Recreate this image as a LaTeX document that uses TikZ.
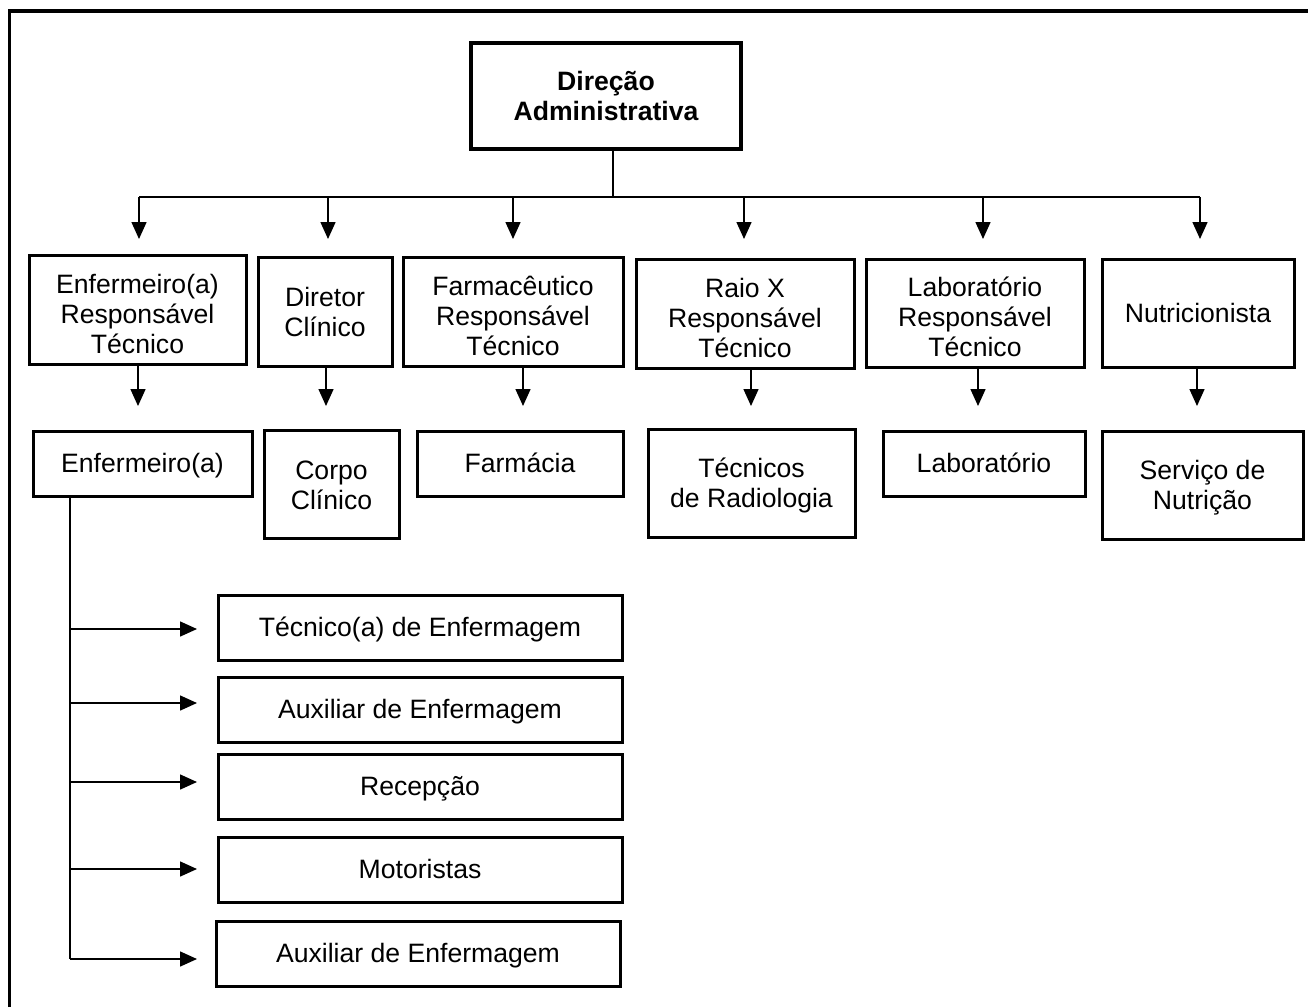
\documentclass[tikz,border=0pt]{standalone}
\usepackage{fontspec}
\setmainfont{Liberation Sans}
\usetikzlibrary{arrows.meta}
\newcommand\uptwo{\rule{0pt}{25.5pt}}
\newcommand\upthree{\rule{0pt}{33.5pt}}
\begin{document}
\begin{tikzpicture}[x=1pt,y=-1pt,
  txtfont/.style={font=\fontsize{26.6}{30}\selectfont},
  box/.style={draw, line width=3pt, inner sep=0pt, align=center, txtfont,
    execute at begin node={\rule{0pt}{24.1pt}},
    execute at end node={\rule[-5.6pt]{0pt}{5.6pt}}},
  conn/.style={line width=1.5pt},
  arr/.style={line width=1.5pt, -{Triangle[length=17pt,width=15pt]}}]
\useasboundingbox (0,0) rectangle (1308,1007);
% frame
\draw[line width=3.2pt] (9.5,1007) -- (9.5,11) -- (1308,11);

% top
\node[box, line width=3.4pt, minimum width=270pt, minimum height=106pt,
      font=\bfseries\fontsize{26.6}{30}\selectfont] (dir) at (606,96) {\uptwo Direção\\Administrativa};

% level 2
\node[box, minimum width=217pt, minimum height=109pt] (enfRT) at (137.5,309.5) {\upthree Enfermeiro(a)\\Responsável\\Técnico};
\node[box, minimum width=134pt, minimum height=109pt] (dirC) at (325,311.5) {\uptwo Diretor\\Clínico};
\node[box, minimum width=220pt, minimum height=109pt] (farmRT) at (513,311.5) {\upthree Farmacêutico\\Responsável\\Técnico};
\node[box, minimum width=218pt, minimum height=109pt] (raioRT) at (745,313.5) {\upthree Raio X\\Responsável\\Técnico};
\node[box, minimum width=218pt, minimum height=108pt] (labRT) at (975,313) {\upthree Laboratório\\Responsável\\Técnico};
\node[box, minimum width=192pt, minimum height=108pt] (nutri) at (1198,313) {Nutricionista};

% level 3
\node[box, minimum width=219pt, minimum height=65pt] (enf) at (142.5,463.5) {Enfermeiro(a)};
\node[box, minimum width=135pt, minimum height=108pt] (corpo) at (331.5,484.5) {\uptwo Corpo\\Clínico};
\node[box, minimum width=206pt, minimum height=65pt] (farm) at (520,463.5) {Farmácia};
\node[box, minimum width=207pt, minimum height=108pt] (tecRad) at (751.5,483) {\uptwo Técnicos\\de Radiologia};
\node[box, minimum width=202pt, minimum height=65pt] (lab) at (984,463.5) {Laboratório};
\node[box, minimum width=201pt, minimum height=108pt] (serv) at (1202.5,485) {\uptwo Serviço de\\Nutrição};

% level 4
\node[box, minimum width=404pt, minimum height=65pt] (b1) at (420,627.5) {Técnico(a) de Enfermagem};
\node[box, minimum width=404pt, minimum height=65pt] (b2) at (420,709.5) {Auxiliar de Enfermagem};
\node[box, minimum width=404pt, minimum height=65pt] (b3) at (420,786.5) {Recepção};
\node[box, minimum width=404pt, minimum height=65pt] (b4) at (420,869.5) {Motoristas};
\node[box, minimum width=404pt, minimum height=65pt] (b5) at (418,953.5) {Auxiliar de Enfermagem};

% bus from top
\coordinate (stemB) at (613,197);
\coordinate (busL) at (139,197);
\coordinate (busR) at (1200,197);
\draw[conn] (dir.south -| stemB) -- (stemB);
\draw[conn] (busL) -- (busR);
\coordinate (t1) at (139,239);
\coordinate (t2) at (328,239);
\coordinate (t3) at (513,239);
\coordinate (t4) at (744,239);
\coordinate (t5) at (983,239);
\coordinate (t6) at (1200,239);
\foreach \t in {t1,t2,t3,t4,t5,t6} \draw[arr] (\t |- busL) -- (\t);

% level 2 -> level 3
\coordinate (a1) at (138,406);
\coordinate (a2) at (326,406);
\coordinate (a3) at (523,406);
\coordinate (a4) at (751,406);
\coordinate (a5) at (978,406);
\coordinate (a6) at (1197,406);
\draw[arr] (enfRT.south -| a1) -- (a1);
\draw[arr] (dirC.south -| a2) -- (a2);
\draw[arr] (farmRT.south -| a3) -- (a3);
\draw[arr] (raioRT.south -| a4) -- (a4);
\draw[arr] (labRT.south -| a5) -- (a5);
\draw[arr] (nutri.south -| a6) -- (a6);

% enfermeiro -> staff
\coordinate (vEnd) at (70,959);
\draw[conn] (enf.south -| vEnd) -- (vEnd);
\coordinate (h1) at (197,629);
\coordinate (h2) at (197,703);
\coordinate (h3) at (197,782);
\coordinate (h4) at (197,869);
\coordinate (h5) at (197,959);
\foreach \h in {h1,h2,h3,h4,h5} \draw[arr] (vEnd |- \h) -- (\h);
\end{tikzpicture}
\end{document}
